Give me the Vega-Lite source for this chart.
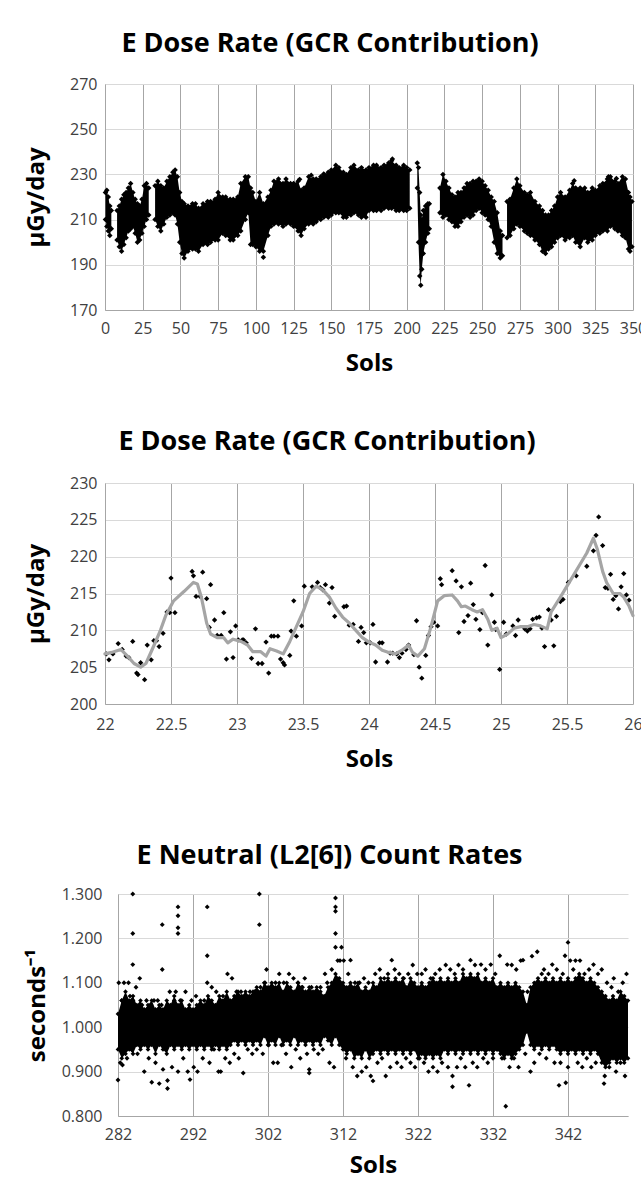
{
  "$schema": "https://vega.github.io/schema/vega-lite/v6.json",
  "background": "white",
  "padding": {"left": 24, "top": 30, "right": 0, "bottom": 0},
  "config": {
    "view": {"stroke": null},
    "font": "Open Sans",
    "title": {"font": "Open Sans", "fontSize": 27, "fontWeight": "bold", "color": "#000000", "anchor": "middle"},
    "axis": {
      "labelFont": "Open Sans", "labelFontSize": 16, "labelColor": "#404040",
      "titleFont": "Open Sans", "titleFontSize": 24, "titleFontWeight": "bold", "titleColor": "#000000",
      "ticks": false, "tickSize": 0, "domainColor": "#a6a6a6", "domainWidth": 1,
      "grid": true, "gridWidth": 1, "labelFlush": false, "labelOverlap": false, "labelBound": false
    },
    "axisX": {"gridColor": "#a6a6a6"},
    "axisY": {"gridColor": "#d9d9d9"}
  },
  "datasets": {
    "band1": [
      {"seg": "A", "sol": 0.3, "lo": 210, "hi": 222}, {"seg": "A", "sol": 1.2, "lo": 207, "hi": 223}, {"seg": "A", "sol": 2.2, "lo": 205, "hi": 220}, {"seg": "A", "sol": 3.2, "lo": 203, "hi": 216}, {"seg": "A", "sol": 4.2, "lo": 206, "hi": 214},
      {"seg": "B", "sol": 8.0, "lo": 201, "hi": 214}, {"seg": "B", "sol": 9.5, "lo": 198, "hi": 216}, {"seg": "B", "sol": 11, "lo": 196, "hi": 219}, {"seg": "B", "sol": 12.5, "lo": 199, "hi": 221}, {"seg": "B", "sol": 14, "lo": 202, "hi": 222}, {"seg": "B", "sol": 15.5, "lo": 205, "hi": 224}, {"seg": "B", "sol": 17, "lo": 206, "hi": 226}, {"seg": "B", "sol": 18.5, "lo": 207, "hi": 222}, {"seg": "B", "sol": 20, "lo": 204, "hi": 219}, {"seg": "B", "sol": 21.5, "lo": 200, "hi": 217}, {"seg": "B", "sol": 23, "lo": 201, "hi": 216}, {"seg": "B", "sol": 24.5, "lo": 204, "hi": 219}, {"seg": "B", "sol": 26, "lo": 207, "hi": 225}, {"seg": "B", "sol": 27.5, "lo": 210, "hi": 226}, {"seg": "B", "sol": 29, "lo": 212, "hi": 224},
      {"seg": "C", "sol": 33.2, "lo": 210, "hi": 225}, {"seg": "C", "sol": 35, "lo": 207, "hi": 227}, {"seg": "C", "sol": 37, "lo": 205, "hi": 225}, {"seg": "C", "sol": 39, "lo": 208, "hi": 224}, {"seg": "C", "sol": 41, "lo": 211, "hi": 227}, {"seg": "C", "sol": 43, "lo": 212, "hi": 229}, {"seg": "C", "sol": 45, "lo": 213, "hi": 231}, {"seg": "C", "sol": 46.5, "lo": 212, "hi": 232}, {"seg": "C", "sol": 48, "lo": 208, "hi": 229}, {"seg": "C", "sol": 49.5, "lo": 200, "hi": 222}, {"seg": "C", "sol": 51, "lo": 195, "hi": 218}, {"seg": "C", "sol": 52.5, "lo": 193, "hi": 217},
      {"seg": "C", "sol": 55, "lo": 196, "hi": 216}, {"seg": "C", "sol": 58, "lo": 197, "hi": 217}, {"seg": "C", "sol": 60, "lo": 197, "hi": 217}, {"seg": "C", "sol": 62, "lo": 196, "hi": 215}, {"seg": "C", "sol": 65, "lo": 199, "hi": 217}, {"seg": "C", "sol": 68, "lo": 199, "hi": 218}, {"seg": "C", "sol": 70, "lo": 200, "hi": 218}, {"seg": "C", "sol": 73, "lo": 201, "hi": 219}, {"seg": "C", "sol": 75, "lo": 201, "hi": 222}, {"seg": "C", "sol": 78, "lo": 204, "hi": 220}, {"seg": "C", "sol": 80, "lo": 203, "hi": 220}, {"seg": "C", "sol": 83, "lo": 201, "hi": 219}, {"seg": "C", "sol": 85, "lo": 201, "hi": 219}, {"seg": "C", "sol": 88, "lo": 203, "hi": 220}, {"seg": "C", "sol": 90, "lo": 205, "hi": 226}, {"seg": "C", "sol": 93, "lo": 210, "hi": 229}, {"seg": "C", "sol": 95, "lo": 213, "hi": 229},
      {"seg": "C", "sol": 96.5, "lo": 199, "hi": 224}, {"seg": "C", "sol": 98, "lo": 199, "hi": 222}, {"seg": "C", "sol": 100, "lo": 198, "hi": 218}, {"seg": "C", "sol": 102.5, "lo": 196, "hi": 222}, {"seg": "C", "sol": 105, "lo": 196, "hi": 217}, {"seg": "C", "sol": 108, "lo": 203, "hi": 220}, {"seg": "C", "sol": 110, "lo": 207, "hi": 223}, {"seg": "C", "sol": 112, "lo": 208, "hi": 227}, {"seg": "C", "sol": 115, "lo": 208, "hi": 228}, {"seg": "C", "sol": 118, "lo": 207, "hi": 226}, {"seg": "C", "sol": 120, "lo": 208, "hi": 228}, {"seg": "C", "sol": 123, "lo": 208, "hi": 226}, {"seg": "C", "sol": 125, "lo": 207, "hi": 226}, {"seg": "C", "sol": 128, "lo": 205, "hi": 227}, {"seg": "C", "sol": 130, "lo": 203, "hi": 223}, {"seg": "C", "sol": 132, "lo": 206, "hi": 224}, {"seg": "C", "sol": 135, "lo": 208, "hi": 229}, {"seg": "C", "sol": 138, "lo": 208, "hi": 228}, {"seg": "C", "sol": 140, "lo": 209, "hi": 228}, {"seg": "C", "sol": 143, "lo": 210, "hi": 229}, {"seg": "C", "sol": 145, "lo": 211, "hi": 230}, {"seg": "C", "sol": 148, "lo": 211, "hi": 231}, {"seg": "C", "sol": 150, "lo": 212, "hi": 232}, {"seg": "C", "sol": 153, "lo": 213, "hi": 234}, {"seg": "C", "sol": 155, "lo": 213, "hi": 233}, {"seg": "C", "sol": 158, "lo": 211, "hi": 231}, {"seg": "C", "sol": 160, "lo": 211, "hi": 230}, {"seg": "C", "sol": 163, "lo": 212, "hi": 233}, {"seg": "C", "sol": 165, "lo": 213, "hi": 234}, {"seg": "C", "sol": 168, "lo": 212, "hi": 232}, {"seg": "C", "sol": 170, "lo": 211, "hi": 233}, {"seg": "C", "sol": 173, "lo": 211, "hi": 232}, {"seg": "C", "sol": 175, "lo": 214, "hi": 233}, {"seg": "C", "sol": 178, "lo": 214, "hi": 234}, {"seg": "C", "sol": 180, "lo": 214, "hi": 234}, {"seg": "C", "sol": 183, "lo": 214, "hi": 233}, {"seg": "C", "sol": 185, "lo": 215, "hi": 234}, {"seg": "C", "sol": 188, "lo": 215, "hi": 235}, {"seg": "C", "sol": 190, "lo": 215, "hi": 236}, {"seg": "C", "sol": 193, "lo": 214, "hi": 234}, {"seg": "C", "sol": 195, "lo": 214, "hi": 233}, {"seg": "C", "sol": 198, "lo": 214, "hi": 234}, {"seg": "C", "sol": 200, "lo": 214, "hi": 233}, {"seg": "C", "sol": 202, "lo": 215, "hi": 232},
      {"seg": "D", "sol": 207, "lo": 224, "hi": 235}, {"seg": "D", "sol": 207.8, "lo": 200, "hi": 233}, {"seg": "D", "sol": 208.6, "lo": 185, "hi": 222}, {"seg": "D", "sol": 209.3, "lo": 181, "hi": 212}, {"seg": "D", "sol": 210, "lo": 188, "hi": 210}, {"seg": "D", "sol": 211, "lo": 195, "hi": 214}, {"seg": "D", "sol": 212.5, "lo": 200, "hi": 216}, {"seg": "D", "sol": 214, "lo": 204, "hi": 217}, {"seg": "D", "sol": 215, "lo": 206, "hi": 217},
      {"seg": "E", "sol": 222, "lo": 213, "hi": 224}, {"seg": "E", "sol": 224, "lo": 211, "hi": 230}, {"seg": "E", "sol": 226, "lo": 212, "hi": 227}, {"seg": "E", "sol": 228, "lo": 210, "hi": 224}, {"seg": "E", "sol": 230, "lo": 209, "hi": 221}, {"seg": "E", "sol": 232, "lo": 207, "hi": 220}, {"seg": "E", "sol": 234, "lo": 207, "hi": 222}, {"seg": "E", "sol": 236, "lo": 209, "hi": 222}, {"seg": "E", "sol": 238, "lo": 211, "hi": 224}, {"seg": "E", "sol": 240, "lo": 212, "hi": 226}, {"seg": "E", "sol": 242, "lo": 211, "hi": 226}, {"seg": "E", "sol": 244, "lo": 212, "hi": 227}, {"seg": "E", "sol": 246, "lo": 214, "hi": 227}, {"seg": "E", "sol": 248, "lo": 215, "hi": 228}, {"seg": "E", "sol": 250, "lo": 213, "hi": 227}, {"seg": "E", "sol": 252, "lo": 212, "hi": 225}, {"seg": "E", "sol": 254, "lo": 210, "hi": 223}, {"seg": "E", "sol": 256, "lo": 207, "hi": 220}, {"seg": "E", "sol": 258, "lo": 200, "hi": 218}, {"seg": "E", "sol": 260, "lo": 195, "hi": 213}, {"seg": "E", "sol": 262, "lo": 193, "hi": 205}, {"seg": "E", "sol": 263.5, "lo": 194, "hi": 203},
      {"seg": "F", "sol": 266.5, "lo": 202, "hi": 218}, {"seg": "F", "sol": 268.5, "lo": 203, "hi": 219}, {"seg": "F", "sol": 271, "lo": 206, "hi": 224}, {"seg": "F", "sol": 273, "lo": 208, "hi": 228}, {"seg": "F", "sol": 275, "lo": 207, "hi": 225}, {"seg": "F", "sol": 278, "lo": 205, "hi": 222}, {"seg": "F", "sol": 280, "lo": 204, "hi": 221}, {"seg": "F", "sol": 282, "lo": 203, "hi": 222}, {"seg": "F", "sol": 285, "lo": 201, "hi": 218}, {"seg": "F", "sol": 288, "lo": 199, "hi": 216}, {"seg": "F", "sol": 290, "lo": 196, "hi": 214}, {"seg": "F", "sol": 292, "lo": 195, "hi": 212}, {"seg": "F", "sol": 294, "lo": 197, "hi": 212}, {"seg": "F", "sol": 296, "lo": 198, "hi": 214}, {"seg": "F", "sol": 298, "lo": 200, "hi": 216}, {"seg": "F", "sol": 300, "lo": 202, "hi": 220}, {"seg": "F", "sol": 302, "lo": 203, "hi": 222}, {"seg": "F", "sol": 305, "lo": 201, "hi": 220}, {"seg": "F", "sol": 308, "lo": 202, "hi": 223}, {"seg": "F", "sol": 310, "lo": 203, "hi": 226}, {"seg": "F", "sol": 312, "lo": 200, "hi": 224}, {"seg": "F", "sol": 315, "lo": 198, "hi": 224}, {"seg": "F", "sol": 318, "lo": 202, "hi": 224}, {"seg": "F", "sol": 320, "lo": 200, "hi": 222}, {"seg": "F", "sol": 323, "lo": 201, "hi": 224}, {"seg": "F", "sol": 325, "lo": 203, "hi": 223}, {"seg": "F", "sol": 328, "lo": 204, "hi": 225}, {"seg": "F", "sol": 330, "lo": 205, "hi": 226}, {"seg": "F", "sol": 333, "lo": 205, "hi": 228}, {"seg": "F", "sol": 335, "lo": 207, "hi": 229}, {"seg": "F", "sol": 338, "lo": 206, "hi": 227}, {"seg": "F", "sol": 340, "lo": 205, "hi": 226}, {"seg": "F", "sol": 343, "lo": 203, "hi": 229}, {"seg": "F", "sol": 345, "lo": 202, "hi": 228}, {"seg": "F", "sol": 347, "lo": 197, "hi": 222}, {"seg": "F", "sol": 348, "lo": 196, "hi": 220}, {"seg": "F", "sol": 349.3, "lo": 198, "hi": 218}
    ],
    "out1": [
      {"sol": 105, "dose": 193.3}, {"sol": 129, "dose": 227.8}, {"sol": 136.7, "dose": 229.6}, {"sol": 145, "dose": 230.2}, {"sol": 190.5, "dose": 236.8}, {"sol": 311, "dose": 227.2}, {"sol": 333.7, "dose": 229}, {"sol": 339, "dose": 228.2}
    ],
    "pts2": [
      {"sol": 22.01, "dose": 206.8}, {"sol": 22.03, "dose": 206.0}, {"sol": 22.06, "dose": 206.8}, {"sol": 22.10, "dose": 208.2}, {"sol": 22.13, "dose": 207.4}, {"sol": 22.16, "dose": 206.5}, {"sol": 22.18, "dose": 206.3}, {"sol": 22.21, "dose": 208.5}, {"sol": 22.24, "dose": 204.2}, {"sol": 22.25, "dose": 204.0}, {"sol": 22.27, "dose": 205.6}, {"sol": 22.30, "dose": 203.3}, {"sol": 22.32, "dose": 208.0}, {"sol": 22.35, "dose": 206.0}, {"sol": 22.37, "dose": 208.6}, {"sol": 22.39, "dose": 208.6}, {"sol": 22.41, "dose": 207.8}, {"sol": 22.44, "dose": 209.6}, {"sol": 22.47, "dose": 212.5}, {"sol": 22.49, "dose": 212.4}, {"sol": 22.50, "dose": 217.1}, {"sol": 22.53, "dose": 212.4},
      {"sol": 22.66, "dose": 218.0}, {"sol": 22.67, "dose": 217.4}, {"sol": 22.69, "dose": 214.6}, {"sol": 22.72, "dose": 214.6}, {"sol": 22.74, "dose": 217.9}, {"sol": 22.77, "dose": 214.3}, {"sol": 22.79, "dose": 210.4}, {"sol": 22.80, "dose": 216.2}, {"sol": 22.83, "dose": 211.4}, {"sol": 22.85, "dose": 209.3}, {"sol": 22.88, "dose": 209.3}, {"sol": 22.90, "dose": 212.4}, {"sol": 22.92, "dose": 206.1}, {"sol": 22.95, "dose": 209.8}, {"sol": 22.97, "dose": 206.3}, {"sol": 22.99, "dose": 210.6}, {"sol": 23.01, "dose": 208.7}, {"sol": 23.04, "dose": 208.7}, {"sol": 23.05, "dose": 208.7}, {"sol": 23.07, "dose": 208.3}, {"sol": 23.11, "dose": 206.2}, {"sol": 23.14, "dose": 210.2}, {"sol": 23.16, "dose": 205.5}, {"sol": 23.19, "dose": 205.5}, {"sol": 23.22, "dose": 208.4}, {"sol": 23.24, "dose": 204.2}, {"sol": 23.26, "dose": 209.2}, {"sol": 23.28, "dose": 209.2}, {"sol": 23.31, "dose": 209.2}, {"sol": 23.33, "dose": 206.1}, {"sol": 23.35, "dose": 205.6}, {"sol": 23.36, "dose": 205.3}, {"sol": 23.40, "dose": 206.6}, {"sol": 23.41, "dose": 209.9}, {"sol": 23.43, "dose": 214.0}, {"sol": 23.45, "dose": 209.2}, {"sol": 23.49, "dose": 210.6}, {"sol": 23.51, "dose": 216.0},
      {"sol": 23.57, "dose": 215.9}, {"sol": 23.61, "dose": 216.5}, {"sol": 23.63, "dose": 215.8}, {"sol": 23.65, "dose": 215.5}, {"sol": 23.67, "dose": 216.2}, {"sol": 23.70, "dose": 213.7}, {"sol": 23.72, "dose": 215.8}, {"sol": 23.74, "dose": 211.9}, {"sol": 23.81, "dose": 213.2}, {"sol": 23.83, "dose": 213.3}, {"sol": 23.85, "dose": 210.7}, {"sol": 23.88, "dose": 210.8}, {"sol": 23.92, "dose": 208.5}, {"sol": 23.94, "dose": 210.4}, {"sol": 23.96, "dose": 209.7}, {"sol": 23.98, "dose": 208.3}, {"sol": 24.01, "dose": 208.3}, {"sol": 24.03, "dose": 210.8}, {"sol": 24.05, "dose": 205.7}, {"sol": 24.08, "dose": 208.3}, {"sol": 24.10, "dose": 208.3}, {"sol": 24.14, "dose": 205.7}, {"sol": 24.16, "dose": 206.9}, {"sol": 24.18, "dose": 206.9}, {"sol": 24.21, "dose": 206.8}, {"sol": 24.23, "dose": 206.3}, {"sol": 24.25, "dose": 206.9}, {"sol": 24.28, "dose": 207.4}, {"sol": 24.30, "dose": 208.0}, {"sol": 24.34, "dose": 206.7}, {"sol": 24.36, "dose": 211.3}, {"sol": 24.38, "dose": 205.0}, {"sol": 24.40, "dose": 203.5}, {"sol": 24.43, "dose": 206.6}, {"sol": 24.45, "dose": 209.3}, {"sol": 24.47, "dose": 210.5}, {"sol": 24.49, "dose": 211.1}, {"sol": 24.52, "dose": 210.6}, {"sol": 24.54, "dose": 217.0}, {"sol": 24.55, "dose": 216.2},
      {"sol": 24.63, "dose": 218.1}, {"sol": 24.66, "dose": 216.7}, {"sol": 24.68, "dose": 209.7}, {"sol": 24.70, "dose": 215.9}, {"sol": 24.72, "dose": 211.2}, {"sol": 24.75, "dose": 212.0}, {"sol": 24.77, "dose": 216.4}, {"sol": 24.79, "dose": 213.5}, {"sol": 24.81, "dose": 211.5}, {"sol": 24.84, "dose": 210.1}, {"sol": 24.86, "dose": 212.4}, {"sol": 24.88, "dose": 218.8}, {"sol": 24.90, "dose": 208.0}, {"sol": 24.93, "dose": 214.8}, {"sol": 24.95, "dose": 211.1}, {"sol": 24.96, "dose": 210.1}, {"sol": 24.99, "dose": 204.7}, {"sol": 25.02, "dose": 211.1}, {"sol": 25.04, "dose": 209.5}, {"sol": 25.09, "dose": 210.6}, {"sol": 25.11, "dose": 209.3}, {"sol": 25.13, "dose": 211.4}, {"sol": 25.18, "dose": 210.2}, {"sol": 25.20, "dose": 209.9}, {"sol": 25.22, "dose": 210.2}, {"sol": 25.24, "dose": 211.5}, {"sol": 25.27, "dose": 211.7}, {"sol": 25.29, "dose": 211.8}, {"sol": 25.31, "dose": 210.3}, {"sol": 25.33, "dose": 207.8}, {"sol": 25.36, "dose": 212.8}, {"sol": 25.38, "dose": 211.4}, {"sol": 25.40, "dose": 207.9}, {"sol": 25.42, "dose": 211.9}, {"sol": 25.45, "dose": 213.9}, {"sol": 25.47, "dose": 214.2}, {"sol": 25.51, "dose": 216.5}, {"sol": 25.57, "dose": 217.4}, {"sol": 25.65, "dose": 218.7}, {"sol": 25.70, "dose": 220.8}, {"sol": 25.72, "dose": 222.9}, {"sol": 25.74, "dose": 225.4}, {"sol": 25.77, "dose": 221.5}, {"sol": 25.79, "dose": 215.8}, {"sol": 25.81, "dose": 215.7}, {"sol": 25.83, "dose": 217.6}, {"sol": 25.85, "dose": 214.2}, {"sol": 25.87, "dose": 214.7}, {"sol": 25.89, "dose": 212.9}, {"sol": 25.91, "dose": 215.9}, {"sol": 25.93, "dose": 217.7}, {"sol": 25.95, "dose": 214.8}, {"sol": 25.97, "dose": 214.1}
    ],
    "avg2": [
      {"sol": 22.0, "dose": 206.8}, {"sol": 22.05, "dose": 207.0}, {"sol": 22.12, "dose": 207.4}, {"sol": 22.17, "dose": 206.5}, {"sol": 22.22, "dose": 205.5}, {"sol": 22.27, "dose": 205.0}, {"sol": 22.31, "dose": 205.5}, {"sol": 22.36, "dose": 207.5}, {"sol": 22.42, "dose": 210.0}, {"sol": 22.46, "dose": 212.0}, {"sol": 22.52, "dose": 214.0}, {"sol": 22.60, "dose": 215.3}, {"sol": 22.67, "dose": 216.5}, {"sol": 22.70, "dose": 216.3}, {"sol": 22.73, "dose": 214.5}, {"sol": 22.77, "dose": 211.0}, {"sol": 22.80, "dose": 209.5}, {"sol": 22.85, "dose": 209.0}, {"sol": 22.90, "dose": 209.0}, {"sol": 22.93, "dose": 208.3}, {"sol": 22.97, "dose": 208.8}, {"sol": 23.03, "dose": 208.5}, {"sol": 23.08, "dose": 208.0}, {"sol": 23.12, "dose": 207.1}, {"sol": 23.18, "dose": 207.1}, {"sol": 23.22, "dose": 206.5}, {"sol": 23.25, "dose": 207.5}, {"sol": 23.30, "dose": 207.2}, {"sol": 23.35, "dose": 206.8}, {"sol": 23.40, "dose": 208.5}, {"sol": 23.45, "dose": 210.5}, {"sol": 23.50, "dose": 212.5}, {"sol": 23.55, "dose": 215.0}, {"sol": 23.60, "dose": 216.0}, {"sol": 23.65, "dose": 215.5}, {"sol": 23.70, "dose": 214.5}, {"sol": 23.75, "dose": 213.0}, {"sol": 23.80, "dose": 211.8}, {"sol": 23.85, "dose": 211.0}, {"sol": 23.90, "dose": 210.0}, {"sol": 23.95, "dose": 209.0}, {"sol": 24.00, "dose": 208.4}, {"sol": 24.05, "dose": 208.0}, {"sol": 24.10, "dose": 207.3}, {"sol": 24.15, "dose": 207.0}, {"sol": 24.20, "dose": 206.8}, {"sol": 24.25, "dose": 207.3}, {"sol": 24.30, "dose": 208.0}, {"sol": 24.33, "dose": 207.0}, {"sol": 24.37, "dose": 206.5}, {"sol": 24.42, "dose": 207.5}, {"sol": 24.47, "dose": 210.5}, {"sol": 24.52, "dose": 214.0}, {"sol": 24.57, "dose": 214.7}, {"sol": 24.63, "dose": 214.8}, {"sol": 24.67, "dose": 214.0}, {"sol": 24.70, "dose": 213.2}, {"sol": 24.73, "dose": 213.3}, {"sol": 24.78, "dose": 212.8}, {"sol": 24.82, "dose": 212.5}, {"sol": 24.86, "dose": 212.8}, {"sol": 24.90, "dose": 211.5}, {"sol": 24.93, "dose": 210.0}, {"sol": 24.97, "dose": 210.3}, {"sol": 25.00, "dose": 209.0}, {"sol": 25.05, "dose": 209.5}, {"sol": 25.10, "dose": 210.3}, {"sol": 25.15, "dose": 210.5}, {"sol": 25.20, "dose": 210.5}, {"sol": 25.25, "dose": 210.8}, {"sol": 25.30, "dose": 210.6}, {"sol": 25.35, "dose": 210.2}, {"sol": 25.38, "dose": 212.5}, {"sol": 25.45, "dose": 214.5}, {"sol": 25.50, "dose": 216.0}, {"sol": 25.55, "dose": 217.5}, {"sol": 25.60, "dose": 219.0}, {"sol": 25.65, "dose": 220.5}, {"sol": 25.70, "dose": 222.5}, {"sol": 25.73, "dose": 221.0}, {"sol": 25.77, "dose": 218.0}, {"sol": 25.80, "dose": 216.5}, {"sol": 25.85, "dose": 215.0}, {"sol": 25.90, "dose": 215.0}, {"sol": 25.93, "dose": 214.5}, {"sol": 25.97, "dose": 213.3}, {"sol": 26.00, "dose": 212.0}
    ],
    "band3": [
      {"sol": 282.0, "lo": 0.95, "hi": 1.03}, {"sol": 282.5, "lo": 0.93, "hi": 1.06}, {"sol": 283.0, "lo": 0.94, "hi": 1.08}, {"sol": 283.5, "lo": 0.95, "hi": 1.06}, {"sol": 284.0, "lo": 0.94, "hi": 1.07}, {"sol": 284.5, "lo": 0.96, "hi": 1.05}, {"sol": 285.0, "lo": 0.95, "hi": 1.06}, {"sol": 285.5, "lo": 0.96, "hi": 1.04}, {"sol": 286.0, "lo": 0.95, "hi": 1.05}, {"sol": 286.5, "lo": 0.96, "hi": 1.06}, {"sol": 287.0, "lo": 0.94, "hi": 1.04}, {"sol": 287.5, "lo": 0.96, "hi": 1.05}, {"sol": 288.0, "lo": 0.95, "hi": 1.04}, {"sol": 288.5, "lo": 0.94, "hi": 1.06}, {"sol": 289.0, "lo": 0.96, "hi": 1.05}, {"sol": 289.5, "lo": 0.95, "hi": 1.07}, {"sol": 290.0, "lo": 0.96, "hi": 1.05}, {"sol": 290.5, "lo": 0.95, "hi": 1.06}, {"sol": 291.0, "lo": 0.96, "hi": 1.04}, {"sol": 291.5, "lo": 0.95, "hi": 1.05}, {"sol": 292.0, "lo": 0.96, "hi": 1.04}, {"sol": 292.5, "lo": 0.95, "hi": 1.05}, {"sol": 293.0, "lo": 0.96, "hi": 1.06}, {"sol": 293.5, "lo": 0.95, "hi": 1.05}, {"sol": 294.0, "lo": 0.96, "hi": 1.07}, {"sol": 294.5, "lo": 0.95, "hi": 1.06}, {"sol": 295.0, "lo": 0.96, "hi": 1.05}, {"sol": 295.5, "lo": 0.95, "hi": 1.07}, {"sol": 296.0, "lo": 0.96, "hi": 1.06}, {"sol": 296.5, "lo": 0.95, "hi": 1.08}, {"sol": 297.0, "lo": 0.96, "hi": 1.06}, {"sol": 297.5, "lo": 0.97, "hi": 1.07}, {"sol": 298.0, "lo": 0.96, "hi": 1.08}, {"sol": 298.5, "lo": 0.97, "hi": 1.07}, {"sol": 299.0, "lo": 0.96, "hi": 1.08}, {"sol": 299.5, "lo": 0.97, "hi": 1.07}, {"sol": 300.0, "lo": 0.96, "hi": 1.08}, {"sol": 300.5, "lo": 0.97, "hi": 1.09}, {"sol": 301.0, "lo": 0.96, "hi": 1.08}, {"sol": 301.5, "lo": 0.98, "hi": 1.10}, {"sol": 302.0, "lo": 0.96, "hi": 1.09}, {"sol": 302.5, "lo": 0.97, "hi": 1.10}, {"sol": 303.0, "lo": 0.96, "hi": 1.09}, {"sol": 303.5, "lo": 0.98, "hi": 1.10}, {"sol": 304.0, "lo": 0.96, "hi": 1.08}, {"sol": 304.5, "lo": 0.97, "hi": 1.10}, {"sol": 305.0, "lo": 0.96, "hi": 1.09}, {"sol": 305.5, "lo": 0.98, "hi": 1.08}, {"sol": 306.0, "lo": 0.96, "hi": 1.10}, {"sol": 306.5, "lo": 0.97, "hi": 1.09}, {"sol": 307.0, "lo": 0.96, "hi": 1.08}, {"sol": 307.5, "lo": 0.97, "hi": 1.09}, {"sol": 308.0, "lo": 0.96, "hi": 1.08}, {"sol": 308.5, "lo": 0.97, "hi": 1.09}, {"sol": 309.0, "lo": 0.96, "hi": 1.08}, {"sol": 309.5, "lo": 0.98, "hi": 1.07}, {"sol": 310.0, "lo": 0.97, "hi": 1.09}, {"sol": 310.5, "lo": 0.96, "hi": 1.10}, {"sol": 311.0, "lo": 0.98, "hi": 1.12}, {"sol": 311.5, "lo": 0.96, "hi": 1.11}, {"sol": 312.0, "lo": 0.95, "hi": 1.10}, {"sol": 312.5, "lo": 0.94, "hi": 1.09}, {"sol": 313.0, "lo": 0.95, "hi": 1.10}, {"sol": 313.5, "lo": 0.93, "hi": 1.09}, {"sol": 314.0, "lo": 0.94, "hi": 1.10}, {"sol": 314.5, "lo": 0.93, "hi": 1.08}, {"sol": 315.0, "lo": 0.95, "hi": 1.09}, {"sol": 315.5, "lo": 0.93, "hi": 1.08}, {"sol": 316.0, "lo": 0.94, "hi": 1.10}, {"sol": 316.5, "lo": 0.95, "hi": 1.09}, {"sol": 317.0, "lo": 0.94, "hi": 1.11}, {"sol": 317.5, "lo": 0.95, "hi": 1.10}, {"sol": 318.0, "lo": 0.94, "hi": 1.11}, {"sol": 318.5, "lo": 0.95, "hi": 1.10}, {"sol": 319.0, "lo": 0.94, "hi": 1.11}, {"sol": 319.5, "lo": 0.95, "hi": 1.10}, {"sol": 320.0, "lo": 0.94, "hi": 1.11}, {"sol": 320.5, "lo": 0.95, "hi": 1.09}, {"sol": 321.0, "lo": 0.94, "hi": 1.11}, {"sol": 321.5, "lo": 0.95, "hi": 1.10}, {"sol": 322.0, "lo": 0.93, "hi": 1.09}, {"sol": 322.5, "lo": 0.94, "hi": 1.10}, {"sol": 323.0, "lo": 0.93, "hi": 1.09}, {"sol": 323.5, "lo": 0.94, "hi": 1.10}, {"sol": 324.0, "lo": 0.93, "hi": 1.11}, {"sol": 324.5, "lo": 0.94, "hi": 1.10}, {"sol": 325.0, "lo": 0.93, "hi": 1.11}, {"sol": 325.5, "lo": 0.95, "hi": 1.10}, {"sol": 326.0, "lo": 0.94, "hi": 1.11}, {"sol": 326.5, "lo": 0.95, "hi": 1.10}, {"sol": 327.0, "lo": 0.94, "hi": 1.11}, {"sol": 327.5, "lo": 0.95, "hi": 1.10}, {"sol": 328.0, "lo": 0.94, "hi": 1.12}, {"sol": 328.5, "lo": 0.95, "hi": 1.11}, {"sol": 329.0, "lo": 0.94, "hi": 1.12}, {"sol": 329.5, "lo": 0.95, "hi": 1.11}, {"sol": 330.0, "lo": 0.94, "hi": 1.12}, {"sol": 330.5, "lo": 0.95, "hi": 1.10}, {"sol": 331.0, "lo": 0.94, "hi": 1.11}, {"sol": 331.5, "lo": 0.95, "hi": 1.10}, {"sol": 332.0, "lo": 0.94, "hi": 1.11}, {"sol": 332.5, "lo": 0.95, "hi": 1.09}, {"sol": 333.0, "lo": 0.94, "hi": 1.10}, {"sol": 333.5, "lo": 0.93, "hi": 1.09}, {"sol": 334.0, "lo": 0.94, "hi": 1.10}, {"sol": 334.5, "lo": 0.93, "hi": 1.09}, {"sol": 335.0, "lo": 0.94, "hi": 1.10}, {"sol": 335.5, "lo": 0.95, "hi": 1.09}, {"sol": 336.0, "lo": 0.96, "hi": 1.08}, {"sol": 336.5, "lo": 0.99, "hi": 1.05}, {"sol": 337.0, "lo": 0.96, "hi": 1.09}, {"sol": 337.5, "lo": 0.95, "hi": 1.10}, {"sol": 338.0, "lo": 0.96, "hi": 1.11}, {"sol": 338.5, "lo": 0.95, "hi": 1.10}, {"sol": 339.0, "lo": 0.96, "hi": 1.11}, {"sol": 339.5, "lo": 0.95, "hi": 1.10}, {"sol": 340.0, "lo": 0.96, "hi": 1.11}, {"sol": 340.5, "lo": 0.95, "hi": 1.10}, {"sol": 341.0, "lo": 0.94, "hi": 1.11}, {"sol": 341.5, "lo": 0.95, "hi": 1.10}, {"sol": 342.0, "lo": 0.94, "hi": 1.11}, {"sol": 342.5, "lo": 0.95, "hi": 1.10}, {"sol": 343.0, "lo": 0.94, "hi": 1.11}, {"sol": 343.5, "lo": 0.95, "hi": 1.12}, {"sol": 344.0, "lo": 0.94, "hi": 1.11}, {"sol": 344.5, "lo": 0.95, "hi": 1.10}, {"sol": 345.0, "lo": 0.94, "hi": 1.11}, {"sol": 345.5, "lo": 0.95, "hi": 1.10}, {"sol": 346.0, "lo": 0.94, "hi": 1.09}, {"sol": 346.5, "lo": 0.92, "hi": 1.08}, {"sol": 347.0, "lo": 0.91, "hi": 1.07}, {"sol": 347.5, "lo": 0.92, "hi": 1.06}, {"sol": 348.0, "lo": 0.93, "hi": 1.07}, {"sol": 348.5, "lo": 0.92, "hi": 1.06}, {"sol": 349.0, "lo": 0.93, "hi": 1.08}, {"sol": 349.5, "lo": 0.92, "hi": 1.07}, {"sol": 350.0, "lo": 0.93, "hi": 1.06}
    ],
    "pts3": [
      {"sol": 282.0, "rate": 0.881}, {"sol": 283.97, "rate": 1.300}, {"sol": 283.97, "rate": 1.211}, {"sol": 283.97, "rate": 1.141}, {"sol": 287.9, "rate": 1.231}, {"sol": 287.9, "rate": 1.130}, {"sol": 290.0, "rate": 1.271}, {"sol": 290.0, "rate": 1.251}, {"sol": 290.0, "rate": 1.224}, {"sol": 290.0, "rate": 1.211}, {"sol": 293.9, "rate": 1.271}, {"sol": 293.9, "rate": 1.161}, {"sol": 300.85, "rate": 1.300}, {"sol": 300.85, "rate": 1.231},
      {"sol": 282.1, "rate": 1.10}, {"sol": 282.3, "rate": 0.92}, {"sol": 282.5, "rate": 1.06}, {"sol": 282.6, "rate": 0.915}, {"sol": 282.8, "rate": 1.10}, {"sol": 283.0, "rate": 1.05}, {"sol": 283.2, "rate": 0.93}, {"sol": 283.4, "rate": 1.10}, {"sol": 283.6, "rate": 1.07}, {"sol": 283.8, "rate": 0.95}, {"sol": 284.0, "rate": 1.06}, {"sol": 284.4, "rate": 1.09}, {"sol": 284.6, "rate": 0.94}, {"sol": 284.9, "rate": 1.11}, {"sol": 285.2, "rate": 1.05}, {"sol": 285.5, "rate": 0.90}, {"sol": 285.8, "rate": 1.06}, {"sol": 286.1, "rate": 0.93}, {"sol": 286.4, "rate": 1.05}, {"sol": 286.5, "rate": 0.876}, {"sol": 286.8, "rate": 1.06}, {"sol": 287.0, "rate": 0.92}, {"sol": 287.3, "rate": 1.06}, {"sol": 287.5, "rate": 0.873}, {"sol": 287.8, "rate": 1.05}, {"sol": 288.0, "rate": 0.905}, {"sol": 288.3, "rate": 1.04}, {"sol": 288.6, "rate": 0.862}, {"sol": 288.6, "rate": 0.88}, {"sol": 288.9, "rate": 1.08}, {"sol": 289.2, "rate": 0.91}, {"sol": 289.5, "rate": 1.06}, {"sol": 289.7, "rate": 1.08}, {"sol": 290.0, "rate": 0.90}, {"sol": 290.3, "rate": 1.06}, {"sol": 290.7, "rate": 0.93}, {"sol": 291.0, "rate": 1.08}, {"sol": 291.3, "rate": 0.90}, {"sol": 291.6, "rate": 0.882}, {"sol": 291.8, "rate": 1.06}, {"sol": 292.1, "rate": 0.91}, {"sol": 292.4, "rate": 1.07}, {"sol": 292.6, "rate": 0.90}, {"sol": 292.9, "rate": 1.04}, {"sol": 293.3, "rate": 0.93}, {"sol": 293.5, "rate": 1.06}, {"sol": 293.9, "rate": 1.10}, {"sol": 294.2, "rate": 0.92}, {"sol": 294.5, "rate": 1.09}, {"sol": 294.8, "rate": 0.95}, {"sol": 295.1, "rate": 1.08}, {"sol": 295.4, "rate": 0.90}, {"sol": 295.7, "rate": 0.90}, {"sol": 296.0, "rate": 1.07}, {"sol": 296.3, "rate": 0.93}, {"sol": 296.6, "rate": 1.12}, {"sol": 296.9, "rate": 0.92}, {"sol": 297.2, "rate": 1.11}, {"sol": 297.5, "rate": 0.94}, {"sol": 297.8, "rate": 1.08}, {"sol": 298.1, "rate": 0.93}, {"sol": 298.4, "rate": 1.08}, {"sol": 298.7, "rate": 0.897}, {"sol": 299.0, "rate": 1.07}, {"sol": 299.3, "rate": 0.95}, {"sol": 299.6, "rate": 1.08}, {"sol": 299.9, "rate": 0.94}, {"sol": 300.2, "rate": 1.08}, {"sol": 300.5, "rate": 0.95}, {"sol": 301.0, "rate": 1.09}, {"sol": 301.3, "rate": 0.94}, {"sol": 301.6, "rate": 1.10}, {"sol": 301.8, "rate": 1.13}, {"sol": 302.1, "rate": 0.96}, {"sol": 302.4, "rate": 1.09}, {"sol": 302.7, "rate": 0.92}, {"sol": 303.0, "rate": 1.10}, {"sol": 303.3, "rate": 0.92}, {"sol": 303.5, "rate": 1.12}, {"sol": 303.8, "rate": 0.96}, {"sol": 304.1, "rate": 1.10}, {"sol": 304.4, "rate": 0.94}, {"sol": 304.8, "rate": 1.12}, {"sol": 305.1, "rate": 0.91}, {"sol": 305.4, "rate": 1.11}, {"sol": 305.7, "rate": 0.95}, {"sol": 306.0, "rate": 1.10}, {"sol": 306.3, "rate": 0.93}, {"sol": 306.6, "rate": 1.09}, {"sol": 306.9, "rate": 1.11}, {"sol": 307.2, "rate": 0.94}, {"sol": 307.5, "rate": 0.897}, {"sol": 307.5, "rate": 0.905}, {"sol": 307.8, "rate": 1.09}, {"sol": 308.1, "rate": 0.95}, {"sol": 308.4, "rate": 1.08}, {"sol": 308.7, "rate": 0.94}, {"sol": 309.0, "rate": 1.09}, {"sol": 309.3, "rate": 0.95}, {"sol": 309.6, "rate": 1.12}, {"sol": 309.9, "rate": 1.10}, {"sol": 310.2, "rate": 0.92}, {"sol": 310.5, "rate": 1.13}, {"sol": 310.8, "rate": 0.91},
      {"sol": 311.0, "rate": 1.18}, {"sol": 311.0, "rate": 1.211}, {"sol": 311.0, "rate": 1.261}, {"sol": 311.0, "rate": 1.271}, {"sol": 311.0, "rate": 1.291}, {"sol": 311.3, "rate": 1.15}, {"sol": 311.6, "rate": 1.15}, {"sol": 311.8, "rate": 1.18}, {"sol": 312.1, "rate": 1.15}, {"sol": 312.4, "rate": 0.93}, {"sol": 312.7, "rate": 1.12}, {"sol": 313.0, "rate": 1.151}, {"sol": 313.3, "rate": 0.91}, {"sol": 313.6, "rate": 1.10}, {"sol": 313.9, "rate": 0.89}, {"sol": 314.2, "rate": 1.10}, {"sol": 314.5, "rate": 0.90}, {"sol": 314.8, "rate": 1.11}, {"sol": 315.1, "rate": 0.91}, {"sol": 315.4, "rate": 1.10}, {"sol": 315.7, "rate": 0.89}, {"sol": 316.0, "rate": 0.879}, {"sol": 316.3, "rate": 1.12}, {"sol": 316.6, "rate": 0.92}, {"sol": 316.9, "rate": 1.13}, {"sol": 317.2, "rate": 0.93}, {"sol": 317.5, "rate": 1.11}, {"sol": 317.7, "rate": 0.89}, {"sol": 318.0, "rate": 1.12}, {"sol": 318.3, "rate": 0.91}, {"sol": 318.5, "rate": 1.151}, {"sol": 318.9, "rate": 1.13}, {"sol": 319.2, "rate": 0.92}, {"sol": 319.5, "rate": 1.12}, {"sol": 319.8, "rate": 0.91}, {"sol": 320.1, "rate": 1.11}, {"sol": 320.4, "rate": 0.93}, {"sol": 320.7, "rate": 1.12}, {"sol": 321.0, "rate": 0.92}, {"sol": 321.3, "rate": 1.14}, {"sol": 321.6, "rate": 0.91}, {"sol": 321.9, "rate": 1.12}, {"sol": 322.2, "rate": 0.93}, {"sol": 322.5, "rate": 1.12}, {"sol": 322.8, "rate": 0.92}, {"sol": 323.0, "rate": 1.13}, {"sol": 323.4, "rate": 0.90}, {"sol": 323.7, "rate": 1.11}, {"sol": 324.0, "rate": 0.91}, {"sol": 324.3, "rate": 1.12}, {"sol": 324.6, "rate": 0.90}, {"sol": 324.9, "rate": 1.13}, {"sol": 325.2, "rate": 0.92}, {"sol": 325.7, "rate": 1.14}, {"sol": 326.0, "rate": 0.91}, {"sol": 326.3, "rate": 1.13}, {"sol": 326.6, "rate": 0.866}, {"sol": 326.6, "rate": 0.89}, {"sol": 326.9, "rate": 1.12}, {"sol": 327.2, "rate": 0.91}, {"sol": 327.4, "rate": 1.14}, {"sol": 327.7, "rate": 0.93}, {"sol": 328.0, "rate": 1.13}, {"sol": 328.3, "rate": 0.91}, {"sol": 328.8, "rate": 0.869}, {"sol": 329.0, "rate": 1.151}, {"sol": 329.3, "rate": 0.92}, {"sol": 329.6, "rate": 1.14}, {"sol": 329.9, "rate": 0.91}, {"sol": 330.4, "rate": 1.141}, {"sol": 330.7, "rate": 0.93}, {"sol": 331.0, "rate": 1.13}, {"sol": 331.3, "rate": 0.92}, {"sol": 331.7, "rate": 1.141}, {"sol": 332.0, "rate": 0.93}, {"sol": 332.3, "rate": 1.12}, {"sol": 332.6, "rate": 0.95}, {"sol": 332.9, "rate": 1.161}, {"sol": 333.2, "rate": 0.93}, {"sol": 333.7, "rate": 0.822}, {"sol": 333.9, "rate": 1.141}, {"sol": 334.2, "rate": 0.91}, {"sol": 334.5, "rate": 1.14}, {"sol": 334.8, "rate": 0.93}, {"sol": 335.1, "rate": 1.13}, {"sol": 335.4, "rate": 0.91}, {"sol": 335.7, "rate": 1.15}, {"sol": 336.0, "rate": 1.151}, {"sol": 336.3, "rate": 0.94}, {"sol": 336.6, "rate": 1.08}, {"sol": 337.0, "rate": 0.90}, {"sol": 337.2, "rate": 1.16}, {"sol": 337.5, "rate": 0.92}, {"sol": 337.9, "rate": 1.17}, {"sol": 338.2, "rate": 0.94}, {"sol": 338.5, "rate": 1.12}, {"sol": 338.8, "rate": 1.13}, {"sol": 339.1, "rate": 0.93}, {"sol": 339.4, "rate": 1.12}, {"sol": 339.9, "rate": 1.141}, {"sol": 340.2, "rate": 0.92}, {"sol": 340.5, "rate": 1.13}, {"sol": 340.8, "rate": 0.869}, {"sol": 341.0, "rate": 0.92}, {"sol": 341.3, "rate": 1.12}, {"sol": 341.6, "rate": 1.161}, {"sol": 341.7, "rate": 0.875}, {"sol": 342.0, "rate": 1.191}, {"sol": 342.0, "rate": 0.91}, {"sol": 342.3, "rate": 1.15}, {"sol": 342.7, "rate": 1.13}, {"sol": 343.0, "rate": 1.15}, {"sol": 343.3, "rate": 0.92}, {"sol": 343.6, "rate": 1.15}, {"sol": 343.9, "rate": 0.91}, {"sol": 344.2, "rate": 1.12}, {"sol": 344.5, "rate": 0.93}, {"sol": 344.8, "rate": 1.13}, {"sol": 345.1, "rate": 0.91}, {"sol": 345.4, "rate": 1.141}, {"sol": 345.7, "rate": 0.92}, {"sol": 346.0, "rate": 1.12}, {"sol": 346.5, "rate": 1.13}, {"sol": 346.8, "rate": 0.873}, {"sol": 346.9, "rate": 0.89}, {"sol": 347.2, "rate": 1.10}, {"sol": 347.5, "rate": 0.91}, {"sol": 347.8, "rate": 1.09}, {"sol": 348.1, "rate": 1.11}, {"sol": 348.4, "rate": 0.90}, {"sol": 348.7, "rate": 1.08}, {"sol": 349.0, "rate": 0.92}, {"sol": 349.3, "rate": 1.10}, {"sol": 349.6, "rate": 0.89}, {"sol": 349.8, "rate": 1.12}
    ]
  },
  "concat": [
    {
      "concat": [
        {
          "width": 528, "height": 226,
          "title": {"text": "E Dose Rate (GCR Contribution)", "dx": -39, "offset": 18},
          "encoding": {
            "x": {"field": "sol", "type": "quantitative", "title": "Sols", "scale": {"domain": [0, 350], "nice": false, "zero": false},
                  "axis": {"values": [0, 25, 50, 75, 100, 125, 150, 175, 200, 225, 250, 275, 300, 325, 350], "format": "d", "labelPadding": 10, "titlePadding": 15}}
          },
          "layer": [
            {"data": {"name": "band1"}, "mark": {"type": "area", "color": "#000000", "opacity": 1},
             "encoding": {"y": {"field": "lo", "type": "quantitative", "title": "μGy/day", "scale": {"domain": [170, 270], "nice": false, "zero": false},
                                "axis": {"values": [170, 190, 210, 230, 250, 270], "minExtent": 49, "maxExtent": 49, "labelPadding": 8, "titlePadding": 8}},
                          "y2": {"field": "hi"}, "detail": {"field": "seg"}}},
            {"data": {"name": "band1"}, "mark": {"type": "point", "shape": "diamond", "filled": true, "color": "#000000", "size": 30, "opacity": 1},
             "encoding": {"y": {"field": "lo", "type": "quantitative", "title": "μGy/day"}}},
            {"data": {"name": "band1"}, "mark": {"type": "point", "shape": "diamond", "filled": true, "color": "#000000", "size": 30, "opacity": 1},
             "encoding": {"y": {"field": "hi", "type": "quantitative", "title": "μGy/day"}}},
            {"data": {"name": "out1"}, "mark": {"type": "point", "shape": "diamond", "filled": true, "color": "#000000", "size": 30, "opacity": 1},
             "encoding": {"y": {"field": "dose", "type": "quantitative", "title": "μGy/day"}}}
          ]
        },
        {
          "width": 528, "height": 221,
          "title": {"text": "E Dose Rate (GCR Contribution)", "dx": -42, "offset": 19},
          "encoding": {
            "x": {"field": "sol", "type": "quantitative", "title": "Sols", "scale": {"domain": [22, 26], "nice": false, "zero": false},
                  "axis": {"values": [22, 22.5, 23, 23.5, 24, 24.5, 25, 25.5, 26], "format": "~g", "labelPadding": 12, "titlePadding": 15}},
            "y": {"field": "dose", "type": "quantitative", "title": "μGy/day", "scale": {"domain": [200, 230], "nice": false, "zero": false},
                  "axis": {"values": [200, 205, 210, 215, 220, 225, 230], "minExtent": 49, "maxExtent": 49, "labelPadding": 8, "titlePadding": 8}}
          },
          "layer": [
            {"data": {"name": "pts2"}, "mark": {"type": "point", "shape": "diamond", "filled": true, "color": "#000000", "size": 28, "opacity": 1}},
            {"data": {"name": "avg2"}, "mark": {"type": "line", "color": "#a5a5a5", "strokeWidth": 3.2, "strokeJoin": "round", "strokeCap": "round"}}
          ]
        }
      ],
      "columns": 1, "align": "none", "spacing": 53
    },
    {
      "width": 523, "height": 222,
      "title": {"text": "E Neutral (L2[6]) Count Rates", "dx": -37, "offset": 16},
      "encoding": {
        "x": {"field": "sol", "type": "quantitative", "title": "Sols", "scale": {"domain": [282, 350], "range": [13, 523], "nice": false, "zero": false},
              "axis": {"values": [282, 292, 302, 312, 322, 332, 342], "format": "d", "labelPadding": 10, "titlePadding": 11}}
      },
      "layer": [
        {"data": {"name": "band3"}, "mark": {"type": "area", "color": "#000000", "opacity": 1},
         "encoding": {"y": {"field": "lo", "type": "quantitative", "title": "seconds⁻¹", "scale": {"domain": [0.8, 1.3], "nice": false, "zero": false},
                            "axis": {"values": [0.8, 0.9, 1.0, 1.1, 1.2, 1.3], "format": ".3f", "offset": -13, "minExtent": 61, "maxExtent": 61, "labelPadding": 16, "titlePadding": 8}},
                      "y2": {"field": "hi"}}},
        {"data": {"name": "band3"}, "mark": {"type": "point", "shape": "diamond", "filled": true, "color": "#000000", "size": 22, "opacity": 1},
         "encoding": {"y": {"field": "lo", "type": "quantitative", "title": "seconds⁻¹"}}},
        {"data": {"name": "band3"}, "mark": {"type": "point", "shape": "diamond", "filled": true, "color": "#000000", "size": 22, "opacity": 1},
         "encoding": {"y": {"field": "hi", "type": "quantitative", "title": "seconds⁻¹"}}},
        {"data": {"name": "pts3"}, "mark": {"type": "point", "shape": "diamond", "filled": true, "color": "#000000", "size": 24, "opacity": 1},
         "encoding": {"y": {"field": "rate", "type": "quantitative", "title": "seconds⁻¹"}}}
      ]
    }
  ],
  "columns": 1, "align": "none", "spacing": 71
}
